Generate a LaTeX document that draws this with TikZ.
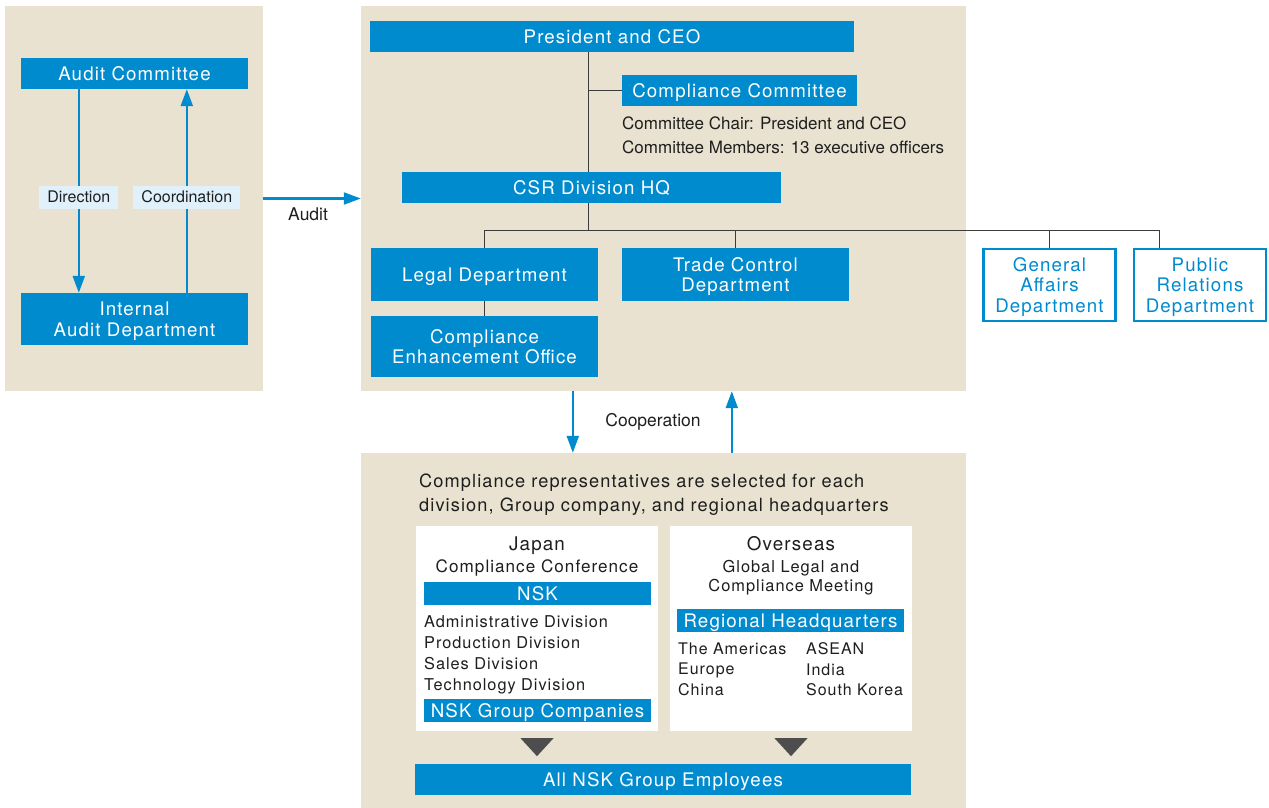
\documentclass[tikz,border=0pt]{standalone}
\usepackage{fontspec}
\setmainfont{TeX Gyre Heros}[LetterSpace=6]
\newfontfamily\narrowfont{TeX Gyre Heros}
\usetikzlibrary{arrows.meta,positioning}

\definecolor{nskblue}{RGB}{0,139,207}
\definecolor{panelbeige}{RGB}{233,226,208}
\definecolor{taglight}{RGB}{224,241,251}
\definecolor{linegray}{RGB}{60,60,60}
\definecolor{trigray}{RGB}{77,77,77}
\definecolor{inkblack}{RGB}{30,30,30}

\newcommand{\boxfs}{\fontsize{18.7}{20.5}\selectfont}
\newcommand{\listfs}{\fontsize{16.3}{21.1}\selectfont}
\newcommand{\conffs}{\fontsize{17.1}{20}\selectfont}
\newcommand{\regionfs}{\fontsize{16}{20.3}\selectfont}
\newcommand{\meetfs}{\fontsize{16.4}{19}\selectfont}
\newcommand{\titlefs}{\fontsize{18.8}{20}\selectfont}
\newcommand{\headfs}{\fontsize{18.2}{23.3}\selectfont}
\newcommand{\notefs}{\narrowfont\fontsize{17}{23.4}\selectfont}
\newcommand{\tagfs}{\narrowfont\fontsize{16}{20}\selectfont}
\newcommand{\flowfs}{\narrowfont\fontsize{17.5}{20}\selectfont}

\begin{document}
\begin{tikzpicture}[x=1pt,y=-1pt,>={Triangle[length=17pt,width=12pt]},
        text=inkblack]
    \tikzstyle{panel}=[fill=panelbeige,inner sep=0pt]
    \tikzstyle{bluebox}=[fill=nskblue,text=white,inner sep=0pt,align=center,font=\boxfs,text depth=0pt]
    \tikzstyle{linebox}=[draw=nskblue,line width=2.5pt,fill=white,text=nskblue,inner sep=0pt,
        align=center,font=\boxfs,text depth=0pt,minimum width=132,minimum height=72]
    \tikzstyle{whitebox}=[fill=white,inner sep=0pt,minimum width=242,minimum height=205]
    \tikzstyle{tag}=[fill=taglight,inner xsep=8pt,inner ysep=0pt,minimum height=23,font=\tagfs]
    \tikzstyle{conn}=[draw=linegray,line width=1.3pt]
    \tikzstyle{flow}=[draw=nskblue,line width=2.2pt,->]
    \tikzstyle{plain}=[inner sep=0pt]

    \useasboundingbox (0,0) rectangle (1269,808);

    % panels
    \node[panel,minimum width=258,minimum height=385] (auditside) at (134,198.5) {};
    \node[panel,minimum width=605,minimum height=385] (hq) at (663.5,198.5) {};
    \node[panel,minimum width=605,minimum height=355] (reps) at (663.5,630.5) {};

    % audit side
    \node[bluebox,minimum width=227,minimum height=31] (auditcom) at (134.5,73.5) {Audit Committee};
    \node[bluebox,minimum width=227,minimum height=52] (intaudit) at (134.5,319) {Internal\\Audit Department};
    \draw[flow] ([xshift=58pt]auditcom.south west) -- node[tag,pos=0.53] {Direction} ([xshift=58pt]intaudit.north west);
    \draw[flow] ([xshift=166pt]intaudit.north west) -- node[tag,pos=0.47] {Coordination} ([xshift=166pt]auditcom.south west);
    \draw[flow] (auditside) -- node[plain,below=8pt,font=\flowfs,pos=0.46] {Audit} (hq);

    % head office
    \node[bluebox,minimum width=484,minimum height=31] (ceo) at (612,36.5) {President and CEO};
    \node[bluebox,minimum width=235,minimum height=31] (compcom) at (739.5,90.5) {Compliance Committee};
    \node[plain,anchor=north west,align=left,font=\notefs] (members) at (622,117)
        {Committee Chair: President and CEO\\Committee Members: 13 executive officers};
    \node[bluebox,minimum width=379,minimum height=31] (csr) at (591.5,187.5) {CSR Division HQ};
    \node[bluebox,minimum width=227,minimum height=53] (legal) at (484.5,274.5) {Legal Department};
    \node[bluebox,minimum width=227,minimum height=53] (trade) at (735.5,274.5) {Trade Control\\Department};
    \node[bluebox,minimum width=227,minimum height=61] (enhance) at (484.5,346.5) {Compliance\\Enhancement Office};
    \node[linebox] (general) at (1049.5,285) {General\\Affairs\\Department};
    \node[linebox] (pr) at (1200,285) {Public\\Relations\\Department};

    \draw[conn] ([xshift=-3pt]csr.north) -- ([xshift=-3pt]csr.north |- ceo.south);
    \draw[conn] (compcom.west) -- ([xshift=-3pt]csr.north |- compcom.west);
    \draw[conn] (legal.north) -- ++(0,-17) coordinate (bus) -| ([xshift=27pt]pr.north west);
    \draw[conn] ([xshift=-3pt]csr.south) -- ([xshift=-3pt]csr.south |- bus);
    \draw[conn] (trade.north) -- (trade.north |- bus);
    \draw[conn] (general.north) -- (general.north |- bus);
    \draw[conn] (legal) -- (enhance);

    % cooperation
    \draw[flow] ([xshift=212pt]hq.south west) -- ([xshift=212pt]reps.north west);
    \draw[flow] ([xshift=371pt]reps.north west) -- ([xshift=371pt]hq.south west);
    \node[plain,font=\flowfs] (coop) at (653,422) {Cooperation};

    % representatives
    \node[plain,anchor=north west,align=left,font=\headfs] (intro) at (419,474)
        {Compliance representatives are selected for each\\division, Group company, and regional headquarters};
    \node[whitebox] (japan) at (537,628.5) {};
    \node[whitebox] (overseas) at (791,628.5) {};

    \node[plain,anchor=base,font=\titlefs] (jptitle) at (537,550.7) {Japan};
    \node[plain,anchor=base,font=\conffs] (jpconf) at (537,572.7) {Compliance Conference};
    \node[bluebox,minimum width=227,minimum height=23] (nsk) at (537.5,593.5) {NSK};
    \node[plain,anchor=north west,align=left,font=\listfs] (divisions) at (424,615)
        {Administrative Division\\Production Division\\Sales Division\\Technology Division};
    \node[bluebox,minimum width=227,minimum height=23] (groupcos) at (537.5,710.5) {NSK Group Companies};

    \node[plain,anchor=base,font=\titlefs] (ostitle) at (791,550.7) {Overseas};
    \node[plain,anchor=north,align=center,font=\meetfs] (osmeet) at (791,560) {Global Legal and\\Compliance Meeting};
    \node[bluebox,minimum width=227,minimum height=23] (rhq) at (790.5,620.5) {Regional Headquarters};
    \node[plain,anchor=north west,align=left,font=\regionfs] (regionsa) at (678,642.7) {The Americas\\Europe\\China};
    \node[plain,anchor=north west,align=left,font=\regionfs] (regionsb) at (806,642.7) {ASEAN\\India\\South Korea};

    \fill[trigray] (japan.south) ++(-16.5,7) -- ++(33,0) -- ++(-16.5,18) -- cycle;
    \fill[trigray] (overseas.south) ++(-16.5,7) -- ++(33,0) -- ++(-16.5,18) -- cycle;
    \node[bluebox,minimum width=496,minimum height=31] (allstaff) at (663,779.5) {All NSK Group Employees};
\end{tikzpicture}
\end{document}
